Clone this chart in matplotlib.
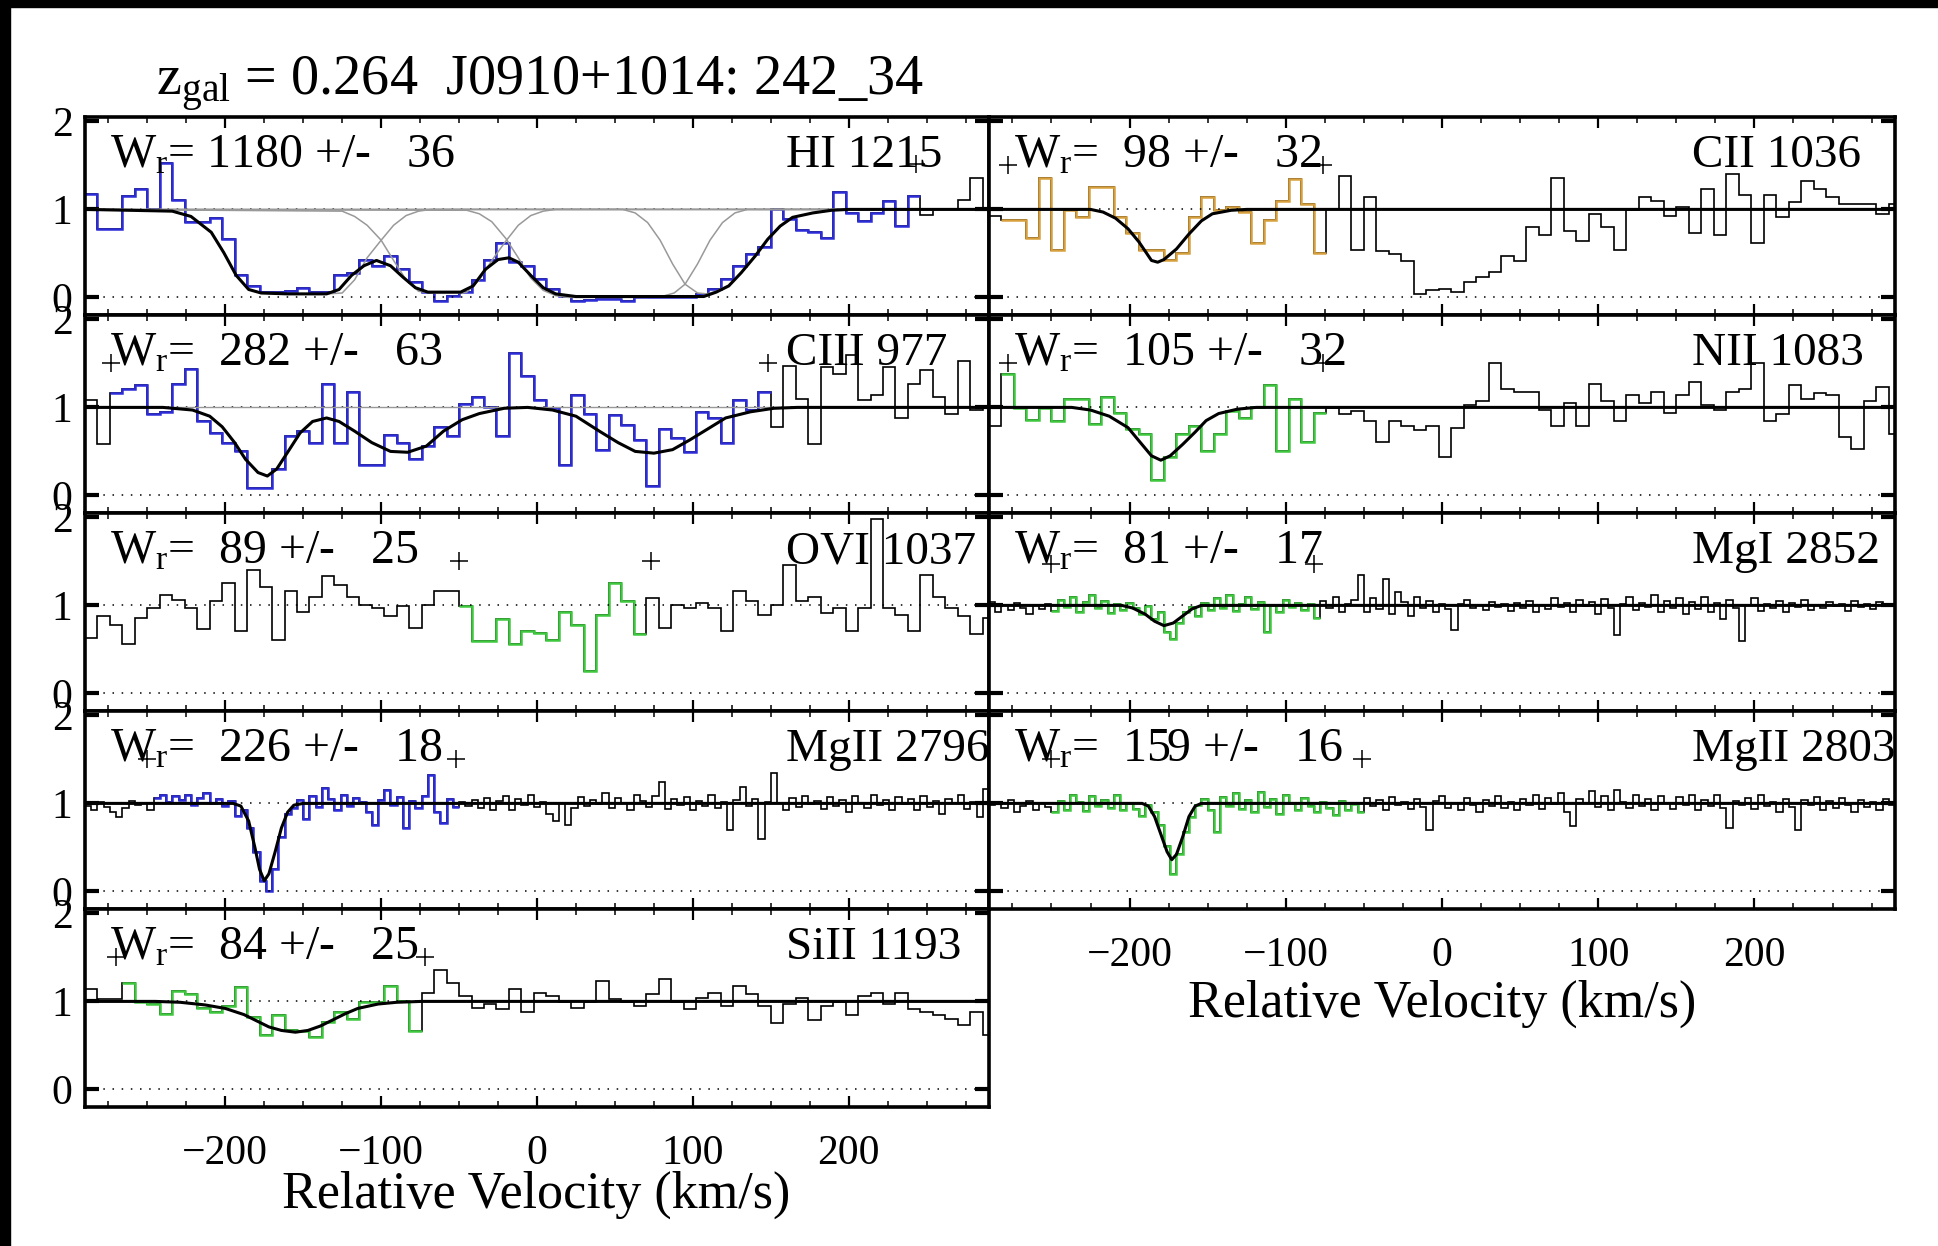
import numpy as np
import matplotlib
matplotlib.use('Agg')
import matplotlib.pyplot as plt
from matplotlib.patches import Rectangle

plt.rcParams['font.family'] = 'Liberation Serif'
plt.rcParams['mathtext.fontset'] = 'custom'
plt.rcParams['mathtext.rm'] = 'Liberation Serif'
plt.rcParams['mathtext.it'] = 'Liberation Serif:italic'

W, H = 1938, 1246

# velocity bin edges (km/s): COS 8 km/s bins, HIRES 4 km/s bins
v8 = np.arange(-290, 295, 8)
v4 = np.arange(-290, 291, 4)

# ---------------- normalised flux ----------------
hi1215 = [1.17, 0.78, 0.78, 1.15, 1.23, 1.00, 1.53, 1.11, 0.86, 0.86,
          0.90, 0.66, 0.25, 0.13, 0.06, 0.06, 0.07, 0.11, 0.06, 0.06,
          0.25, 0.28, 0.43, 0.36, 0.47, 0.32, 0.17, 0.06, -0.04, 0.02,
          0.06, 0.20, 0.42, 0.62, 0.40, 0.36, 0.21, 0.09, 0.02, -0.04,
          -0.03, -0.02, -0.02, -0.04, 0.00, 0.00, 0.01, 0.00, 0.01, 0.04,
          0.09, 0.21, 0.36, 0.49, 0.57, 1.00, 0.89, 0.77, 0.74, 0.68,
          1.20, 0.96, 0.87, 0.96, 1.09, 0.81, 1.15, 0.94, 1.00, 1.00,
          1.11, 1.36, 1.00]
ciii977 = [1.08, 0.58, 1.16, 1.21, 1.25, 0.93, 0.95, 1.27, 1.44, 0.84,
           0.71, 0.60, 0.50, 0.08, 0.08, 0.30, 0.67, 0.73, 0.60, 1.27,
           0.60, 1.18, 0.35, 0.34, 0.69, 0.60, 0.41, 0.56, 0.78, 0.67,
           1.04, 1.12, 1.01, 0.67, 1.62, 1.36, 1.08, 0.99, 0.35, 1.14,
           0.93, 0.52, 0.91, 0.80, 0.63, 0.11, 0.76, 0.65, 0.49, 0.95,
           0.88, 0.60, 1.08, 0.97, 1.18, 0.78, 1.47, 1.10, 0.58, 1.46,
           1.38, 1.60, 1.08, 1.14, 1.46, 0.88, 1.27, 1.42, 1.12, 0.93,
           1.53, 0.97, 1.00]
ovi1037 = [0.63, 0.88, 0.78, 0.56, 0.86, 0.97, 1.12, 1.06, 0.97, 0.73,
           1.05, 1.25, 0.71, 1.40, 1.21, 0.61, 1.16, 0.93, 1.10, 1.33,
           1.23, 1.10, 1.01, 0.97, 0.88, 0.99, 0.74, 1.01, 1.16, 1.16,
           0.99, 0.59, 0.59, 0.84, 0.56, 0.71, 0.69, 0.61, 0.93, 0.78,
           0.26, 0.89, 1.25, 1.05, 0.67, 1.08, 0.74, 1.01, 0.97, 1.03,
           0.97, 0.71, 1.16, 1.05, 0.89, 1.01, 1.46, 1.05, 1.10, 0.91,
           0.97, 0.71, 0.97, 1.98, 0.97, 0.89, 0.71, 1.35, 1.10, 0.97,
           0.88, 0.67, 0.86]
cii1036 = [0.93, 0.88, 0.88, 0.67, 1.36, 0.54, 0.99, 0.91, 1.25, 1.25,
           0.91, 0.73, 0.54, 0.54, 0.43, 0.51, 0.91, 1.14, 0.99, 1.03,
           0.97, 0.62, 0.88, 1.10, 1.34, 1.06, 0.51, 1.00, 1.38, 0.54,
           1.14, 0.53, 0.49, 0.41, 0.04, 0.08, 0.10, 0.06, 0.17, 0.23,
           0.29, 0.47, 0.41, 0.80, 0.71, 1.36, 0.75, 0.64, 0.95, 0.80,
           0.54, 0.99, 1.14, 1.10, 0.93, 1.03, 0.73, 1.23, 0.71, 1.40,
           1.16, 0.62, 1.16, 0.91, 1.08, 1.32, 1.23, 1.14, 1.06, 1.06,
           1.06, 0.95, 1.06]
nii1083 = [0.79, 1.38, 0.99, 0.86, 0.99, 0.85, 1.10, 1.10, 0.81, 1.12,
           0.94, 0.75, 0.70, 0.18, 0.44, 0.70, 0.79, 0.51, 0.70, 0.96,
           0.88, 1.01, 1.25, 0.51, 1.10, 0.61, 0.94, 0.99, 0.92, 0.96,
           0.85, 0.61, 0.85, 0.79, 0.74, 0.79, 0.44, 0.77, 1.03, 1.07,
           1.51, 1.21, 1.18, 1.18, 0.97, 0.79, 1.05, 0.79, 1.27, 1.07,
           0.85, 1.14, 1.05, 1.18, 0.94, 1.14, 1.29, 1.03, 0.97, 1.18,
           1.21, 1.51, 0.85, 0.92, 1.25, 1.10, 1.16, 1.14, 0.66, 0.53,
           1.07, 1.23, 0.70]
sii1193 = [1.14, 1.03, 1.03, 1.21, 0.99, 0.97, 0.86, 1.12, 1.08, 0.93,
           0.88, 0.95, 1.16, 0.82, 0.62, 0.84, 0.67, 0.66, 0.60, 0.77,
           0.88, 0.80, 0.99, 0.99, 1.17, 1.00, 0.66, 1.10, 1.36, 1.21,
           1.06, 0.93, 0.97, 0.91, 1.14, 0.88, 1.10, 1.06, 0.99, 0.93,
           0.99, 1.23, 1.03, 0.99, 0.95, 1.08, 1.25, 0.99, 0.91, 1.04,
           1.10, 0.95, 1.17, 1.08, 0.95, 0.75, 0.97, 1.04, 0.79, 0.95,
           0.99, 0.84, 1.06, 1.10, 0.97, 1.10, 0.91, 0.88, 0.84, 0.80,
           0.73, 0.88, 0.62]
mgii2796 = [0.97, 0.93, 1.02, 0.96, 0.90, 0.84, 0.95, 1.03, 0.98, 1.00,
            0.92, 1.06, 1.10, 1.02, 1.08, 1.04, 1.10, 0.98, 1.06, 1.12,
            1.01, 1.05, 0.97, 1.03, 0.86, 0.93, 0.72, 0.45, 0.12, 0.00,
            0.25, 0.62, 0.88, 0.95, 1.04, 0.82, 1.08, 0.96, 1.18, 1.05,
            0.93, 1.10, 0.97, 1.06, 1.02, 0.90, 0.76, 1.04, 1.15, 0.98,
            1.07, 0.72, 1.03, 0.95, 1.08, 1.32, 0.90, 0.78, 1.05, 0.96,
            1.02, 0.97, 1.04, 0.95, 1.06, 0.92, 1.03, 1.08, 0.93, 1.05,
            0.98, 1.10, 0.96, 1.02, 0.88, 0.80, 1.00, 0.75, 0.95, 1.07,
            0.97, 1.04, 0.99, 1.12, 0.95, 1.06, 1.01, 0.93, 1.10, 1.03,
            0.96, 1.08, 1.24, 0.94, 1.05, 0.98, 1.07, 0.92, 1.03, 0.97,
            1.09, 0.95, 1.02, 0.70, 1.04, 1.19, 0.97, 1.05, 0.60, 1.02,
            1.34, 1.00, 0.93, 1.06, 0.96, 1.08, 0.99, 1.03, 0.94, 1.07,
            0.97, 1.04, 0.90, 1.08, 1.00, 0.95, 1.10, 0.98, 1.04, 0.93,
            1.07, 0.99, 1.05, 0.92, 1.08, 0.96, 1.03, 0.88, 1.05, 1.00,
            1.09, 0.94, 1.02, 0.85, 1.16]
mgii2803 = [0.98, 1.02, 0.95, 1.04, 0.90, 0.97, 1.03, 0.92, 1.00, 0.96,
            0.90, 1.03, 0.93, 1.10, 1.02, 0.91, 1.08, 0.97, 1.04, 0.95,
            1.10, 0.92, 1.00, 0.94, 0.86, 0.98, 0.90, 0.75, 0.52, 0.20,
            0.42, 0.68, 0.85, 0.98, 1.05, 0.92, 0.68, 1.07, 0.97, 1.12,
            0.94, 1.04, 0.90, 1.13, 0.96, 1.05, 0.88, 1.10, 1.00, 0.93,
            1.06, 0.97, 0.90, 1.02, 0.95, 0.87, 1.03, 0.92, 0.99, 0.90,
            1.06, 0.97, 1.04, 0.93, 1.07, 0.98, 1.02, 0.94, 1.05, 0.96,
            0.70, 1.03, 1.08, 0.95, 1.01, 0.93, 1.06, 0.98, 0.90, 1.04,
            0.97, 1.08, 0.95, 1.02, 0.92, 1.05, 0.98, 1.10, 0.94, 1.06,
            0.99, 1.12, 0.90, 0.74, 1.05, 1.00, 1.14, 0.96, 1.08, 0.93,
            1.15, 1.02, 0.95, 1.10, 0.97, 1.05, 0.92, 1.08, 1.00, 0.94,
            1.07, 0.98, 1.10, 0.93, 1.04, 0.97, 1.09, 0.95, 0.72, 1.03,
            0.98, 1.06, 0.94, 1.10, 0.97, 1.02, 0.90, 1.05, 0.96, 0.70,
            1.04, 0.98, 1.07, 0.92, 1.03, 0.95, 1.06, 0.98, 0.90, 1.04,
            0.96, 1.02, 0.93, 1.05, 0.98]
mgi2852 = [1.04, 0.92, 1.00, 0.95, 1.03, 0.97, 0.90, 1.01, 0.96, 1.02,
           0.94, 1.06, 0.98, 1.10, 0.93, 1.04, 1.12, 0.97, 1.05, 0.91,
           1.02, 0.95, 1.03, 0.97, 0.90, 0.99, 0.85, 0.93, 0.70, 0.62,
           0.80, 0.92, 0.98, 0.88, 1.03, 0.95, 1.08, 0.97, 1.12, 0.94,
           1.02, 1.09, 0.96, 1.04, 0.70, 1.00, 0.93, 1.06, 0.98, 1.03,
           0.95, 1.02, 0.86, 1.05, 0.97, 1.10, 0.93, 1.02, 1.06, 1.35,
           0.92, 1.08, 0.96, 1.30, 0.90, 1.15, 1.04, 0.88, 1.10, 0.97,
           1.05, 0.93, 1.02, 0.96, 0.72, 1.02, 1.06, 0.97, 1.00, 0.95,
           1.04, 0.98, 1.02, 0.94, 1.03, 0.97, 1.05, 0.92, 1.01, 0.96,
           1.08, 0.98, 1.03, 0.93, 1.06, 0.99, 1.04, 0.90, 1.07, 0.97,
           0.66, 1.02, 1.10, 0.95, 1.03, 0.98, 1.12, 0.93, 1.05, 0.97,
           1.08, 0.90, 1.04, 0.96, 1.10, 0.92, 1.03, 0.85, 1.06, 0.97,
           0.60, 1.00, 1.08, 0.94, 1.02, 0.97, 1.05, 0.93, 1.03, 0.98,
           1.06, 0.95, 1.01, 0.97, 1.04, 0.99, 1.02, 0.94, 1.05, 0.98,
           1.02, 0.96, 1.04, 0.99, 1.01]

# ---------------- Voigt-profile fits ----------------
hi_fit_v = [-290, -234, -222, -209, -201, -193, -185, -177, -160, -135, -127, -119, -111,
            -103, -94, -86, -78, -70, -57, -49, -41, -33, -25, -18, -12, -4, 4, 12, 25,
            107, 115, 123, 131, 140, 148, 156, 164, 177, 189, 200, 290]
hi_fit_f = [1.0, 0.98, 0.92, 0.74, 0.51, 0.25, 0.09, 0.05, 0.04, 0.04, 0.09, 0.25, 0.36,
            0.42, 0.36, 0.23, 0.11, 0.06, 0.06, 0.06, 0.13, 0.32, 0.43, 0.45, 0.40, 0.25,
            0.11, 0.04, 0.01, 0.01, 0.06, 0.13, 0.28, 0.47, 0.66, 0.81, 0.91, 0.96, 0.99,
            1.0, 1.0]
# individual HI components
hi_c1_v = [-290, -234, -222, -209, -201, -193, -185, -177, -160, -135, -125, -117, -109,
           -100, -92, -84, -76, -68, 290]
hi_c1_f = [1.0, 0.98, 0.92, 0.74, 0.51, 0.25, 0.09, 0.05, 0.04, 0.04, 0.05, 0.2, 0.45,
           0.65, 0.82, 0.93, 0.98, 1.0, 1.0]
hi_c2_v = [-290, -125, -117, -109, -100, -92, -84, -76, -68, -48, -45, -37, -29, -20, -12,
           -4, 4, 12, 290]
hi_c2_f = [1.0, 0.98, 0.92, 0.82, 0.65, 0.42, 0.2, 0.07, 0.05, 0.05, 0.06, 0.2, 0.42, 0.64,
           0.82, 0.93, 0.98, 1.0, 1.0]
hi_c3_v = [-290, -45, -37, -29, -20, -12, -4, 4, 12, 20, 70, 80, 88, 95, 103, 111, 119,
           127, 135, 290]
hi_c3_f = [1.0, 0.99, 0.95, 0.86, 0.67, 0.45, 0.22, 0.08, 0.02, 0.0, 0.0, 0.01, 0.05, 0.15,
           0.38, 0.65, 0.85, 0.96, 1.0, 1.0]
hi_c4_v = [-290, 55, 63, 71, 79, 87, 95, 103, 109, 115, 123, 131, 140, 148, 156, 164, 177,
           189, 200, 290]
hi_c4_f = [1.0, 1.0, 0.96, 0.85, 0.65, 0.38, 0.15, 0.05, 0.04, 0.07, 0.14, 0.28, 0.47,
           0.66, 0.81, 0.91, 0.96, 0.99, 1.0, 1.0]

ciii_fit_v = [-290, -240, -221, -210, -202, -194, -187, -179, -173, -167, -160, -152, -144,
              -135, -127, -117, -106, -94, -83, -71, -60, -48, -37, -21, -6, 10, 25, 40, 52,
              63, 75, 87, 98, 110, 121, 137, 152, 167, 290]
ciii_fit_f = [1.0, 1.0, 0.97, 0.9, 0.78, 0.6, 0.41, 0.26, 0.22, 0.3, 0.49, 0.71, 0.84,
              0.88, 0.84, 0.73, 0.6, 0.5, 0.49, 0.56, 0.73, 0.86, 0.93, 0.99, 1.0, 0.97,
              0.9, 0.73, 0.6, 0.5, 0.48, 0.52, 0.63, 0.76, 0.88, 0.95, 0.99, 1.0, 1.0]
cii_fit_v = [-290, -225, -217, -209, -201, -194, -186, -182, -178, -170, -162, -154, -147,
             -135, -125, 290]
cii_fit_f = [1.0, 1.0, 0.97, 0.9, 0.78, 0.63, 0.42, 0.40, 0.43, 0.55, 0.72, 0.87, 0.95,
             0.99, 1.0, 1.0]
nii_fit_v = [-290, -237, -225, -213, -201, -194, -186, -180, -174, -166, -158, -151, -143,
             -131, -119, 290]
nii_fit_f = [1.0, 1.0, 0.97, 0.9, 0.77, 0.62, 0.45, 0.4, 0.45, 0.58, 0.72, 0.85, 0.93,
             0.98, 1.0, 1.0]
mgi_fit_v = [-290, -205, -198, -190, -184, -178, -172, -166, -160, -154, 290]
mgi_fit_f = [1.0, 1.0, 0.97, 0.9, 0.82, 0.77, 0.8, 0.88, 0.96, 1.0, 1.0]
mg2796_fit_v = [-290, -195, -190, -185, -181, -178, -175, -172, -168, -164, -160, -156,
                -150, 290]
mg2796_fit_f = [1.0, 1.0, 0.97, 0.8, 0.5, 0.25, 0.12, 0.2, 0.45, 0.72, 0.9, 0.98, 1.0, 1.0]
mg2803_fit_v = [-290, -192, -188, -184, -180, -176, -173, -170, -166, -162, -158, -154, 290]
mg2803_fit_f = [1.0, 1.0, 0.97, 0.85, 0.65, 0.45, 0.36, 0.42, 0.62, 0.85, 0.97, 1.0, 1.0]
sii_fit_v = [-290, -245, -229, -213, -200, -188, -180, -172, -164, -155, -147, -139, -131,
             -123, -115, -102, -90, -74, 290]
sii_fit_f = [1.0, 1.0, 0.99, 0.96, 0.92, 0.85, 0.78, 0.71, 0.67, 0.65, 0.67, 0.72, 0.79,
             0.86, 0.92, 0.97, 0.99, 1.0, 1.0]

blue = '#2c2cd8'
green = '#3ec83e'
orange = '#d6a03c'

# (column, row, name, W_r text, edges, flux, colored bins, colour, fit, integration limits)
panels = [
    (0, 0, 'HI 1215', '1180 +/-   36', v8, hi1215, (0, 67), blue,
     (hi_fit_v, hi_fit_f), [(243, 1.52)]),
    (0, 1, 'CIII 977', ' 282 +/-   63', v8, ciii977, (2, 55), blue,
     (ciii_fit_v, ciii_fit_f), [(-273, 1.51), (148, 1.51)]),
    (0, 2, 'OVI 1037', ' 89 +/-   25', v8, ovi1037, (30, 45), green,
     None, [(-50, 1.5), (73, 1.5)]),
    (0, 3, 'MgII 2796', ' 226 +/-   18', v4, mgii2796, (11, 60), blue,
     (mg2796_fit_v, mg2796_fit_f), [(-250, 1.5), (-52, 1.5)]),
    (0, 4, 'SiII 1193', ' 84 +/-   25', v8, sii1193, (3, 27), green,
     (sii_fit_v, sii_fit_f), [(-270, 1.51), (-72, 1.51)]),
    (1, 0, 'CII 1036', ' 98 +/-   32', v8, cii1036, (1, 27), orange,
     (cii_fit_v, cii_fit_f), [(-278, 1.5), (-76, 1.5)]),
    (1, 1, 'NII 1083', ' 105 +/-   32', v8, nii1083, (1, 27), green,
     (nii_fit_v, nii_fit_f), [(-278, 1.5), (-76, 1.5)]),
    (1, 2, 'MgI 2852', ' 81 +/-   17', v4, mgi2852, (10, 53), green,
     (mgi_fit_v, mgi_fit_f), [(-250, 1.47), (-82, 1.47)]),
    (1, 3, 'MgII 2803', ' 159 +/-   16', v4, mgii2803, (10, 60), green,
     (mg2803_fit_v, mg2803_fit_f), [(-250, 1.5), (-51, 1.5)]),
]

fig = plt.figure(figsize=(W / 100, H / 100), dpi=100)

# dark border along the top and left of the page
fig.patches.append(Rectangle((0, 1 - 7 / H), 1, 7 / H, transform=fig.transFigure,
                             color='k', zorder=-1))
fig.patches.append(Rectangle((0, 0), 10 / W, 1, transform=fig.transFigure,
                             color='k', zorder=-1))

last_row = {0: 4, 1: 3}
for col, row, name, wtxt, edges, flux, (i0, i1), c, fit, plus in panels:
    x0 = 85 if col == 0 else 989
    wd = 904 if col == 0 else 906
    top = 117 + 198 * row
    ax = fig.add_axes([x0 / W, 1 - (top + 198) / H, wd / W, 198 / H])

    flux = np.array(flux)
    ax.axhline(0, ls=(0, (1, 5)), color='k', lw=1.1)
    ax.axhline(1, ls=(0, (1, 5)), color='k', lw=1.1)
    if name == 'HI 1215':
        ax.axhline(1, color='0.6', lw=1)
        for cv, cf in [(hi_c1_v, hi_c1_f), (hi_c2_v, hi_c2_f),
                       (hi_c3_v, hi_c3_f), (hi_c4_v, hi_c4_f)]:
            ax.plot(cv, cf, color='0.6', lw=1.1)
    if name == 'CIII 977':
        ax.axhline(1, color='0.6', lw=1)

    ax.stairs(flux, edges, baseline=None, color='k', lw=1.2)
    ax.stairs(flux[i0:i1], edges[i0:i1 + 1], baseline=None, color=c, lw=1.8)
    if fit is not None:
        ax.plot(fit[0], fit[1], color='k', lw=2.2)
    for pv, py in plus:
        ax.plot(pv, py, marker='+', ms=13, mew=1.1, color='k', ls='none')

    ax.text(-274, 1.48, r'W$_{\mathrm{r}}$= ' + wtxt, fontsize=34.5, va='baseline')
    ax.text(160, 1.48, name, fontsize=34, va='baseline')

    ax.set_xlim(-290, 290)
    ax.set_ylim(-0.2, 2.05)
    ax.set_xticks([-200, -100, 0, 100, 200])
    ax.set_xticks(np.arange(-275, 290, 25), minor=True)
    ax.set_yticks([0, 1, 2])
    ax.tick_params(axis='x', which='major', direction='in', top=True, bottom=True,
                   length=8, width=1.6, labelsize=30, pad=20)
    ax.tick_params(axis='x', which='minor', direction='in', top=True, bottom=True,
                   length=4, width=1.1)
    ax.tick_params(axis='y', which='major', direction='in', left=True, right=True,
                   length=10, width=3, labelsize=30, pad=9)
    ax.tick_params(axis='y', which='minor', left=False, right=False)
    ax.tick_params(labelleft=(col == 0), labelbottom=(row == last_row[col]))
    for s in ax.spines.values():
        s.set_linewidth(2.6)

fig.text(156 / W, 1 - 95 / H, r'z$_{\mathrm{gal}}$ = 0.264  J0910+1014: 242_34',
         fontsize=40.5, va='baseline')
fig.text(536 / W, 1 - 1208 / H, 'Relative Velocity (km/s)', fontsize=37.5,
         ha='center', va='baseline')
fig.text(1442 / W, 1 - 1017 / H, 'Relative Velocity (km/s)', fontsize=37.5,
         ha='center', va='baseline')

fig.savefig('out.png', dpi=100)
